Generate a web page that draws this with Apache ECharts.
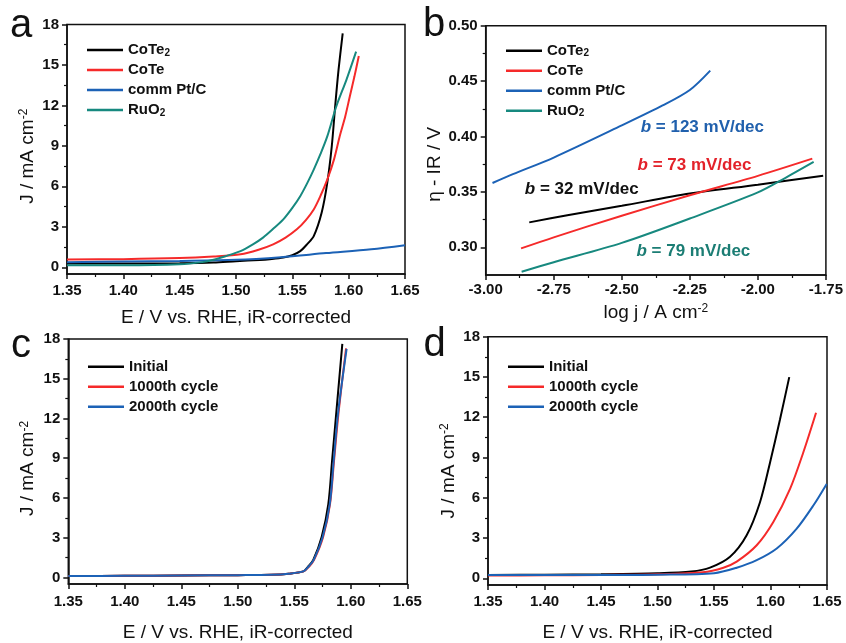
<!DOCTYPE html>
<html>
<head>
<meta charset="utf-8">
<script src="https://cdn.jsdelivr.net/npm/echarts@6/dist/echarts.min.js"></script>
<style>
  html, body { margin: 0; padding: 0; background: #fff; }
  #chart { width: 846px; height: 643px; }
</style>
</head>
<body>
<div id="chart"></div>
<script>
// ---------------- Tick labels ----------------
const eTicks = [1.35, 1.40, 1.45, 1.50, 1.55, 1.60, 1.65];
const jTicks = [0, 3, 6, 9, 12, 15, 18];
const logjTicks = [-3.00, -2.75, -2.50, -2.25, -2.00, -1.75];
const etaTicks = [0.30, 0.35, 0.40, 0.45, 0.50];

// ---------------- Panel a: polarization curves ----------------
const aNames = ['CoTe2', 'CoTe', 'comm Pt/C', 'RuO2'];
const aCoTe2E = [1.35, 1.40, 1.45, 1.48, 1.50, 1.521, 1.53, 1.542, 1.55, 1.557, 1.563, 1.569, 1.576, 1.581, 1.585, 1.588, 1.591, 1.5947];
const aCoTe2J = [0.27, 0.28, 0.30, 0.35, 0.45, 0.54, 0.60, 0.72, 0.90, 1.20, 1.70, 2.31, 4.04, 6.26, 8.97, 11.92, 14.63, 17.35];
const aCoTeE = [1.35, 1.40, 1.45, 1.48, 1.504, 1.52, 1.533, 1.544, 1.554, 1.562, 1.569, 1.575, 1.581, 1.587, 1.592, 1.597, 1.601, 1.605, 1.609];
const aCoTeJ = [0.58, 0.60, 0.68, 0.80, 0.96, 1.30, 1.70, 2.20, 2.81, 3.50, 4.29, 5.30, 6.50, 8.00, 9.70, 11.20, 12.66, 14.10, 15.67];
const aPtE = [1.35, 1.40, 1.45, 1.50, 1.54, 1.58, 1.62, 1.65];
const aPtJ = [0.38, 0.42, 0.47, 0.55, 0.75, 1.05, 1.33, 1.63];
const aRuO2E = [1.35, 1.40, 1.45, 1.47, 1.48, 1.49, 1.504, 1.515, 1.524, 1.533, 1.542, 1.550, 1.557, 1.563, 1.569, 1.575, 1.581, 1.589, 1.598, 1.6066];
const aRuO2J = [0.15, 0.15, 0.22, 0.38, 0.55, 0.80, 1.20, 1.70, 2.20, 2.85, 3.55, 4.40, 5.27, 6.20, 7.24, 8.40, 9.70, 11.92, 13.90, 15.99];

// ---------------- Panel b: Tafel plots ----------------
const bCoTe2X = [-2.84, -2.70, -2.50, -2.25, -2.00, -1.76];
const bCoTe2Y = [0.3225, 0.329, 0.3375, 0.3485, 0.3565, 0.3646];
const bCoTeX = [-2.87, -2.75, -2.50, -2.25, -2.00, -1.80];
const bCoTeY = [0.299, 0.309, 0.3285, 0.347, 0.3645, 0.380];
const bPtX = [-2.975, -2.90, -2.75, -2.50, -2.35, -2.25, -2.175];
const bPtY = [0.358, 0.366, 0.381, 0.410, 0.428, 0.442, 0.4595];
const bRuO2X = [-2.868, -2.75, -2.50, -2.25, -2.00, -1.90, -1.795];
const bRuO2Y = [0.278, 0.2865, 0.304, 0.326, 0.3495, 0.3625, 0.377];
const tafelSlopes = ['32', '73', '123', '79'];           // mV/dec, in aNames order
const tafelLabelAt = [[-2.647, 0.3526], [-2.233, 0.374], [-2.204, 0.408], [-2.237, 0.296]];

// ---------------- Panel c: CoTe2 stability ----------------
const cycNames = ['Initial', '1000th cycle', '2000th cycle'];
const cInitE = [1.35, 1.40, 1.45, 1.50, 1.53, 1.545, 1.558, 1.562, 1.5668, 1.5742, 1.5801, 1.5834, 1.5872, 1.5925];
const cInitJ = [0.10, 0.12, 0.14, 0.17, 0.20, 0.28, 0.45, 0.80, 1.32, 3.05, 5.53, 8.76, 12.48, 17.63];
const c1000E = [1.35, 1.40, 1.45, 1.50, 1.53, 1.545, 1.558, 1.563, 1.5675, 1.5755, 1.5816, 1.5851, 1.5892, 1.5958];
const c1000J = [0.10, 0.12, 0.14, 0.17, 0.20, 0.28, 0.45, 0.80, 1.32, 3.05, 5.53, 8.76, 12.48, 17.30];
const c2000E = [1.35, 1.40, 1.45, 1.50, 1.53, 1.545, 1.558, 1.5625, 1.5672, 1.5751, 1.5814, 1.5848, 1.5888, 1.5963];
const c2000J = [0.10, 0.12, 0.14, 0.17, 0.20, 0.28, 0.45, 0.80, 1.32, 3.05, 5.53, 8.76, 12.48, 17.26];

// ---------------- Panel d: CoTe stability ----------------
const dInitE = [1.35, 1.40, 1.45, 1.50, 1.53, 1.5465, 1.5642, 1.5789, 1.5907, 1.5996, 1.6084, 1.6166];
const dInitJ = [0.25, 0.27, 0.30, 0.37, 0.50, 0.79, 1.60, 3.20, 5.67, 8.63, 11.83, 14.99];
const d1000E = [1.35, 1.40, 1.45, 1.50, 1.54, 1.5583, 1.5701, 1.5878, 1.6025, 1.6173, 1.629, 1.6403];
const d1000J = [0.20, 0.22, 0.25, 0.30, 0.45, 0.79, 1.24, 2.46, 4.19, 6.66, 9.37, 12.33];
const d2000E = [1.35, 1.40, 1.45, 1.50, 1.55, 1.5701, 1.5878, 1.6055, 1.6232, 1.6379, 1.6497];
const d2000J = [0.25, 0.25, 0.25, 0.27, 0.38, 0.79, 1.35, 2.22, 3.70, 5.42, 7.03];

// ---------------- helpers ----------------
const FONT = '"Liberation Sans", Arial, Helvetica, sans-serif';
const BLACK = '#000000', RED = '#f52a2a', BLUE = '#1c62b6', TEAL = '#17897f';
const pair = (xs, ys) => xs.map((x, i) => [x, ys[i]]);
const mids = t => t.slice(1).map((v, i) => +((v + t[i]) / 2).toFixed(4));

const grids = [
  { left: 67,    top: 24.5,  width: 338,   height: 249.5 },
  { left: 485.7, top: 25.7,  width: 341.3, height: 249.3 },
  { left: 68.3,  top: 339,   width: 339,   height: 247.7 },
  { left: 488,   top: 336.7, width: 339,   height: 250 }
].map(g => Object.assign(g, { show: true, borderColor: '#111', borderWidth: 1.5, backgroundColor: 'transparent' }));

const tickFont = { fontSize: 15, fontWeight: 'bold', fontFamily: FONT, color: '#111' };
const nameFont = (extra) => Object.assign({
  fontSize: 19, fontFamily: FONT, color: '#111',
  rich: { sup: { fontSize: 12, fontFamily: FONT, color: '#111', verticalAlign: 'top' } }
}, extra || {});

function majorAxis(dim, gridIndex, min, max, ticks, digits, name, nameGap, labelMargin, namePad) {
  return {
    type: 'value', gridIndex, min, max,
    position: dim === 'x' ? 'bottom' : 'left',
    name, nameLocation: 'middle', nameGap,
    nameTextStyle: nameFont(namePad ? { padding: namePad } : {}),
    axisLine: { show: true, onZero: false, lineStyle: { color: '#111', width: 1.5 } },
    axisTick: { show: true, inside: false, length: 5, customValues: ticks, lineStyle: { color: '#111', width: 1.5 } },
    axisLabel: Object.assign({ show: true, margin: labelMargin, customValues: ticks,
      formatter: v => Number(v).toFixed(digits) }, tickFont),
    splitLine: { show: false }
  };
}
function minorAxis(dim, gridIndex, min, max, ticks) {
  return {
    type: 'value', gridIndex, min, max,
    position: dim === 'x' ? 'bottom' : 'left',
    axisLine: { show: false, onZero: false },
    axisTick: { show: true, inside: false, length: 3, customValues: mids(ticks), lineStyle: { color: '#111', width: 1.2 } },
    axisLabel: { show: false },
    splitLine: { show: false }
  };
}

const E_NAME = 'E / V vs. RHE, iR-corrected';
const J_NAME = 'J / mA cm{sup|-2}';

const xAxes = [
  majorAxis('x', 0, 1.35, 1.65, eTicks, 2, E_NAME, 34, 9),
  majorAxis('x', 1, -3.0, -1.75, logjTicks, 2, 'log j / A cm{sup|-2}', 28, 7),
  majorAxis('x', 2, 1.35, 1.65, eTicks, 2, E_NAME, 39, 10),
  majorAxis('x', 3, 1.35, 1.65, eTicks, 2, E_NAME, 38, 9),
  minorAxis('x', 0, 1.35, 1.65, eTicks),
  minorAxis('x', 1, -3.0, -1.75, logjTicks),
  minorAxis('x', 2, 1.35, 1.65, eTicks),
  minorAxis('x', 3, 1.35, 1.65, eTicks)
];
const yAxes = [
  majorAxis('y', 0, -0.5, 18, jTicks, 0, J_NAME, 30, 8, [0, 14, 0, 0]),
  majorAxis('y', 1, 0.275, 0.50, etaTicks, 2, 'η - IR / V', 40, 8, [0, 28, 0, 0]),
  majorAxis('y', 2, -0.5, 18, jTicks, 0, J_NAME, 31, 8, [0, 14, 0, 0]),
  majorAxis('y', 3, -0.5, 18, jTicks, 0, J_NAME, 30, 8, [0, 20, 0, 0]),
  minorAxis('y', 0, -0.5, 18, jTicks),
  minorAxis('y', 1, 0.275, 0.50, etaTicks),
  minorAxis('y', 2, -0.5, 18, jTicks),
  minorAxis('y', 3, -0.5, 18, jTicks)
];

function line(name, color, gi, data, extra) {
  return Object.assign({
    type: 'line', name, xAxisIndex: gi, yAxisIndex: gi, data,
    showSymbol: false, symbol: 'none', smooth: 0.3,
    lineStyle: { color, width: 2 }, itemStyle: { color }, silent: true
  }, extra || {});
}
function tafelMark(idx, color) {
  return {
    markPoint: {
      silent: true, symbol: 'rect', symbolSize: 1, itemStyle: { color: 'rgba(0,0,0,0)' },
      data: [{ coord: tafelLabelAt[idx] }],
      label: {
        show: true, position: 'inside', color,
        formatter: '{i|b}{n| = ' + tafelSlopes[idx] + ' mV/dec}',
        rich: {
          i: { fontSize: 17, fontWeight: 'bold', fontStyle: 'italic', fontFamily: FONT, color },
          n: { fontSize: 17, fontWeight: 'bold', fontFamily: FONT, color }
        }
      }
    }
  };
}

const series = [
  line(aNames[0], BLACK, 0, pair(aCoTe2E, aCoTe2J)),
  line(aNames[1], RED, 0, pair(aCoTeE, aCoTeJ)),
  line(aNames[2], BLUE, 0, pair(aPtE, aPtJ)),
  line(aNames[3], TEAL, 0, pair(aRuO2E, aRuO2J)),
  line(aNames[0], BLACK, 1, pair(bCoTe2X, bCoTe2Y), tafelMark(0, '#111111')),
  line(aNames[1], RED, 1, pair(bCoTeX, bCoTeY), tafelMark(1, '#e3222a')),
  line(aNames[2], BLUE, 1, pair(bPtX, bPtY), tafelMark(2, '#2060ad')),
  line(aNames[3], TEAL, 1, pair(bRuO2X, bRuO2Y), tafelMark(3, '#1b7d74')),
  line(cycNames[0], BLACK, 2, pair(cInitE, cInitJ)),
  line(cycNames[1], RED, 2, pair(c1000E, c1000J)),
  line(cycNames[2], BLUE, 2, pair(c2000E, c2000J)),
  line(cycNames[0], BLACK, 3, pair(dInitE, dInitJ)),
  line(cycNames[1], RED, 3, pair(d1000E, d1000J)),
  line(cycNames[2], BLUE, 3, pair(d2000E, d2000J))
];

const subFmt = n => n.replace(/^(CoTe|RuO)2$/, '$1{s|2}');
function legendAt(left, top, names) {
  return {
    orient: 'vertical', left, top, data: names, icon: 'rect',
    itemWidth: 36, itemHeight: 2.5, itemGap: 4, selectedMode: false,
    formatter: subFmt,
    textStyle: {
      fontSize: 15, fontWeight: 'bold', fontFamily: FONT, color: '#111', lineHeight: 16,
      rich: { s: { fontSize: 10, fontWeight: 'bold', fontFamily: FONT, color: '#111', verticalAlign: 'bottom', lineHeight: 16 } }
    }
  };
}

const panelLetter = (text, x, y) => ({
  type: 'text', x, y, silent: true,
  style: { text, font: '40px ' + FONT, fill: '#111', align: 'left', verticalAlign: 'middle' }
});

const option = {
  animation: false,
  backgroundColor: '#ffffff',
  grid: grids,
  xAxis: xAxes,
  yAxis: yAxes,
  legend: [
    legendAt(82, 37, aNames),
    legendAt(501, 37.7, aNames),
    legendAt(83, 353.7, cycNames),
    legendAt(503, 353.7, cycNames)
  ],
  graphic: [
    panelLetter('a', 10, 25.6),
    panelLetter('b', 423, 24.6),
    panelLetter('c', 11, 345.6),
    panelLetter('d', 423.5, 344.6)
  ],
  series
};

const chart = echarts.init(document.getElementById('chart'), null, { renderer: 'canvas' });
chart.setOption(option);
</script>
</body>
</html>
